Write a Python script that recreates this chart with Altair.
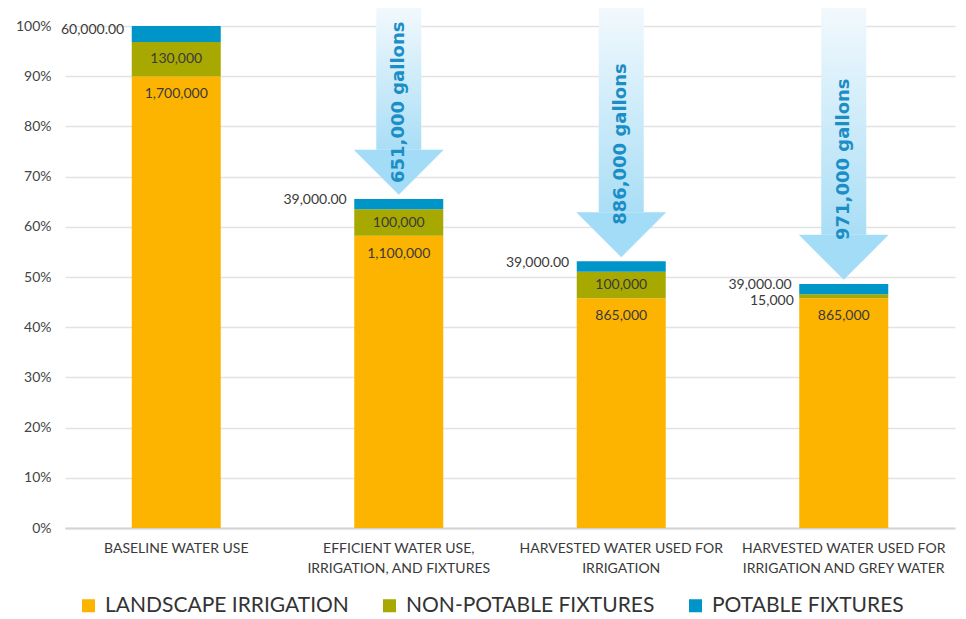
import altair as alt
import pandas as pd

# ---------------- data ----------------
categories = [
    "BASELINE WATER USE",
    "EFFICIENT WATER USE,|IRRIGATION, AND FIXTURES",
    "HARVESTED WATER USED FOR|IRRIGATION",
    "HARVESTED WATER USED FOR|IRRIGATION AND GREY WATER",
]
series = ["LANDSCAPE IRRIGATION", "NON-POTABLE FIXTURES", "POTABLE FIXTURES"]
colors = ["#FDB400", "#A8A900", "#0095C9"]
landscape = [1700000, 1100000, 865000, 865000]
non_potable = [130000, 100000, 100000, 15000]
potable = [60000, 39000, 39000, 39000]
savings_labels = ["", "651,000  gallons", "886,000  gallons", "971,000  gallons"]
tick_values = [0, 10, 20, 30, 40, 50, 60, 70, 80, 90, 100]

baseline_total = landscape[0] + non_potable[0] + potable[0]

rows = []
for i, c in enumerate(categories):
    base = 0.0
    for s, vals in zip(series, [landscape, non_potable, potable]):
        v = vals[i]
        pct = v / baseline_total * 100
        lab = f"{v:,.2f}" if s == "POTABLE FIXTURES" else f"{v:,}"
        rows.append(dict(cat=c, series=s, value=v, pct=pct, y0=base, y1=base + pct,
                         mid=base + pct / 2, label=lab))
        base += pct
df = pd.DataFrame(rows)

arrows = []
for i, c in enumerate(categories):
    if not savings_labels[i]:
        continue
    top = (landscape[i] + non_potable[i] + potable[i]) / baseline_total * 100
    tip = top + 0.8
    head_top = tip + 9.0
    shaft_top = 104.0
    arrows.append(dict(cat=c, head_mid=tip + 4.5, head_top=head_top, shaft_top=shaft_top,
                       text_y=head_top + 0.33 * (shaft_top - head_top), label=savings_labels[i]))
adf = pd.DataFrame(arrows)

FONT = "Lato"
xscale = alt.Scale(domain=categories, paddingInner=0.6, paddingOuter=0.3)
yscale = alt.Scale(domain=[0, 100], nice=False)

x_enc = alt.X("cat:N", scale=xscale, sort=categories, title=None,
              axis=alt.Axis(labelAngle=0, labelExpr="split(datum.label, '|')",
                            labelFont=FONT, labelFontSize=14, labelColor="#3a3a3a",
                            labelLineHeight=20, labelPadding=13, ticks=False, labelLimit=0,
                            domainColor="#d4d4d4", domainWidth=2, grid=False))

bars = alt.Chart(df).mark_bar().encode(
    x=x_enc,
    y=alt.Y("y0:Q", scale=yscale, title=None,
            axis=alt.Axis(values=tick_values, labelExpr="datum.value + '%'",
                          labelFont=FONT, labelFontSize=14, labelColor="#444444",
                          labelPadding=14, ticks=False, domain=False,
                          gridColor="#e2e2e2", gridWidth=1.5)),
    y2="y1:Q",
    color=alt.Color("series:N", scale=alt.Scale(domain=series, range=colors), sort=series,
                    legend=alt.Legend(title=None, orient="none", direction="horizontal",
                                      legendX=13, legendY=569, symbolType="square",
                                      symbolSize=170, symbolStrokeWidth=0, labelLimit=0,
                                      labelFont=FONT, labelFontSize=21, labelColor="#333333",
                                      labelOffset=6, columnPadding=30, padding=0)),
)

text_style = dict(font=FONT, fontSize=14, color="#3a3a3a")

land_labels = alt.Chart(df).transform_filter(
    alt.datum.series == series[0]
).mark_text(baseline="middle", dy=18, **text_style).encode(
    x=alt.X("cat:N", scale=xscale, sort=categories), y=alt.Y("y1:Q", scale=yscale), text="label:N")

np_inside = alt.Chart(df).transform_filter(
    (alt.datum.series == series[1]) & (alt.datum.pct > 3)
).mark_text(baseline="middle", **text_style).encode(
    x=alt.X("cat:N", scale=xscale, sort=categories), y=alt.Y("mid:Q", scale=yscale), text="label:N")

np_outside = alt.Chart(df).transform_filter(
    (alt.datum.series == series[1]) & (alt.datum.pct <= 3)
).mark_text(baseline="middle", align="right", dx=-50, dy=5, **text_style).encode(
    x=alt.X("cat:N", scale=xscale, sort=categories), y=alt.Y("mid:Q", scale=yscale), text="label:N")

pot_outside = alt.Chart(df).transform_filter(
    alt.datum.series == series[2]
).mark_text(baseline="middle", align="right", dx=-52, dy=-4, **text_style).encode(
    x=alt.X("cat:N", scale=xscale, sort=categories), y=alt.Y("mid:Q", scale=yscale), text="label:N")

shaft = alt.Chart(adf).mark_bar(
    size=45,
    color=alt.Gradient(gradient="linear", x1=0, x2=0, y1=0, y2=1,
                       stops=[alt.GradientStop(color="#f3f9fd", offset=0),
                              alt.GradientStop(color="#a9def6", offset=1)]),
).encode(x=alt.X("cat:N", scale=xscale, sort=categories),
         y=alt.Y("shaft_top:Q", scale=yscale), y2="head_top:Q")

head = alt.Chart(adf).mark_point(
    shape="M-1,-0.5L1,-0.5L0,0.5Z", size=8100, filled=True, fill="#a3dcf6",
    opacity=1, strokeWidth=0,
).encode(x=alt.X("cat:N", scale=xscale, sort=categories),
         y=alt.Y("head_mid:Q", scale=yscale))

arrow_text = alt.Chart(adf).mark_text(
    angle=270, align="center", baseline="middle", font="DejaVu Sans", fontWeight="bold",
    fontSize=18, color="#1b8ec6",
).encode(x=alt.X("cat:N", scale=xscale, sort=categories),
         y=alt.Y("text_y:Q", scale=yscale), text="label:N")

chart = alt.layer(bars, land_labels, np_inside, np_outside, pot_outside, shaft, head, arrow_text).properties(
    width=890, height=502,
    autosize=alt.AutoSizeParams(type="none"),
    padding={"left": 57, "top": 18, "right": 3, "bottom": 90},
    background="white",
).configure_view(stroke=None)

chart.save("out.html", embed_options={"renderer": "svg", "actions": False})
